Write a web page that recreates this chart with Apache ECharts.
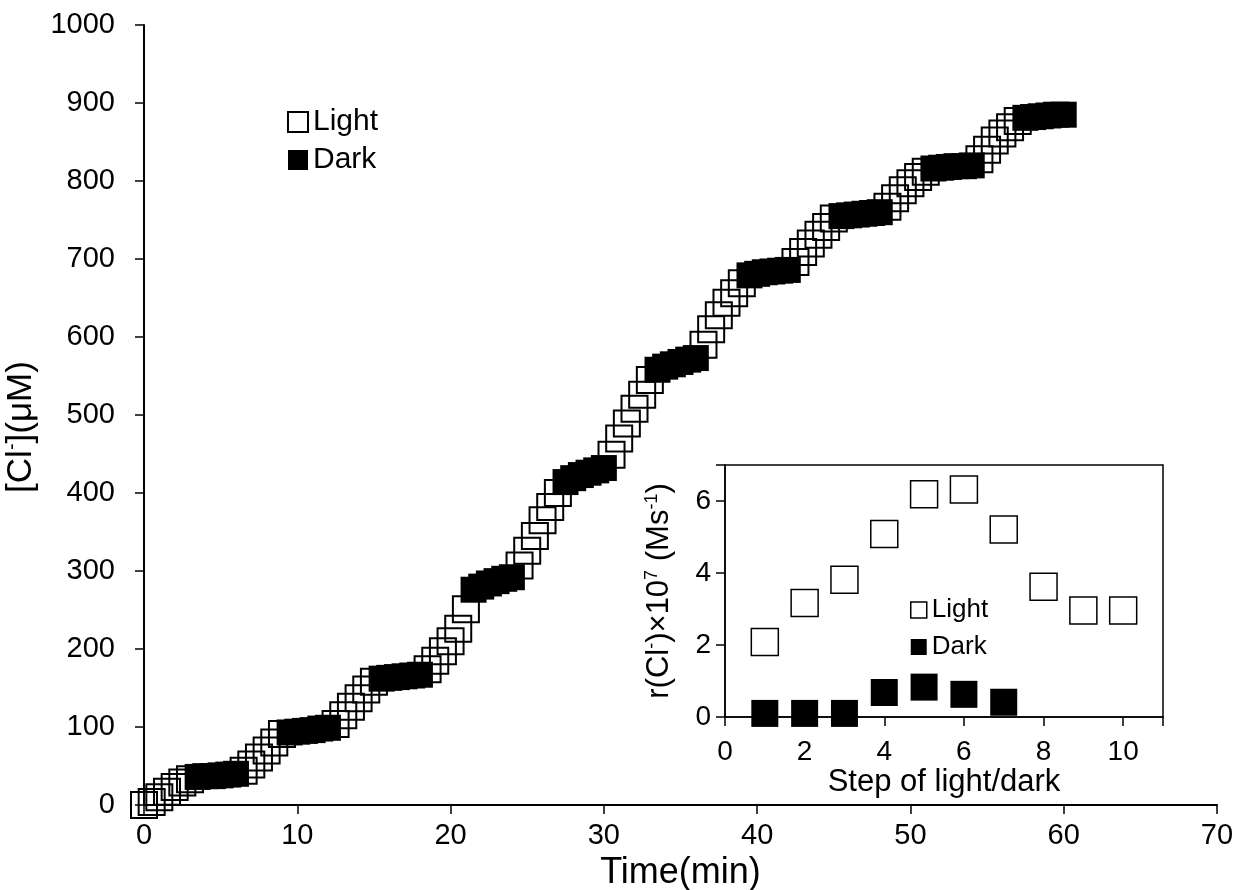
<!DOCTYPE html>
<html><head><meta charset="utf-8">
<script src="https://cdn.jsdelivr.net/npm/echarts@6/dist/echarts.min.js"></script>
<style>html,body{margin:0;padding:0;background:#fff}#c{width:1241px;height:890px}</style>
</head><body><div id="c"></div>
<script>
// Main panel: [Cl-] vs time, light and dark periods
const lightTime = [0,0.5,1,1.5,2,2.5,3, 6.5,7,7.5,8,8.5,9, 12.5,13,13.5,14,14.5,15, 18.5,19,19.5,20,20.5,21, 24.5,25,25.5,26,26.5,27, 30.5,31,31.5,32,32.5,33, 36.5,37,37.5,38,38.5,39, 42.5,43,43.5,44,44.5,45, 48.5,49,49.5,50,50.5,51, 54.5,55,55.5,56,56.5,57];
const lightCl = [0,4,10,17,23,29,33, 44,52,61,70,80,91, 104,115,126,137,148,158, 174,185,197,210,226,251, 307,326,345,365,382,400, 449,470,489,508,526,545, 590,610,628,644,656,669, 696,709,720,731,741,752, 767,778,788,797,805,812, 828,840,852,861,869,877];
const darkTime = [3.5,4,4.5,5,5.5,6, 9.5,10,10.5,11,11.5,12, 15.5,16,16.5,17,17.5,18, 21.5,22,22.5,23,23.5,24, 27.5,28,28.5,29,29.5,30, 33.5,34,34.5,35,35.5,36, 39.5,40,40.5,41,41.5,42, 45.5,46,46.5,47,47.5,48, 51.5,52,52.5,53,53.5,54, 57.5,58,58.5,59,59.5,60];
const darkCl = [36,37,37,38,39,40, 93,94,95,96,98,99, 162,163,164,165,166,167, 276,280,284,287,290,292, 414,419,423,426,429,432, 558,562,565,568,571,573, 679,681,683,684,685,686, 755,756,757,758,759,760, 816,817,818,819,819,820, 881,882,883,884,885,885];

// Inset: rate per step
const stepLight = [1,2,3,4,5,6,7,8,9,10];
const rateLight = [2.08,3.17,3.81,5.08,6.19,6.32,5.21,3.62,2.96,2.96];
const stepDark = [1,2,3,4,5,6,7];
const rateDark = [0.10,0.10,0.10,0.68,0.83,0.63,0.41];

const mainXTicks = [0,10,20,30,40,50,60,70];
const insetXTicks = [0,2,4,6,8,10];
const insetYTicks = [0,2,4,6];

const FONT = '"Liberation Sans", Arial, sans-serif';
const zip = (xs, ys) => xs.map((x, i) => [x, ys[i]]);
const plain = (v) => String(v);
const chart = echarts.init(document.getElementById('c'), null, {renderer: 'canvas'});

const axisCommon = (w) => ({
  axisLine: {show: true, onZero: false, lineStyle: {color: '#000', width: w}},
  axisTick: {show: true, inside: false, length: 9, lineStyle: {color: '#000', width: 1.5}},
  splitLine: {show: false}
});

const option = {
  backgroundColor: '#fff',
  animation: false,
  textStyle: {fontFamily: FONT, color: '#000'},
  grid: [
    {left: 144, top: 25, right: 24, bottom: 85, outerBoundsMode: 'none', containLabel: false},
    {left: 725, top: 465, width: 438, height: 252, show: true, backgroundColor: '#fff',
     borderColor: '#000', borderWidth: 1.5, outerBoundsMode: 'none', containLabel: false}
  ],
  xAxis: [
    Object.assign({gridIndex: 0, type: 'value', min: 0, max: 70, interval: 10,
      axisLabel: {fontSize: 29, color: '#000', fontFamily: FONT, margin: 16, customValues: mainXTicks, formatter: plain},
      name: 'Time(min)', nameLocation: 'middle', nameGap: 49,
      nameTextStyle: {fontSize: 36, color: '#000', fontFamily: FONT}}, axisCommon(2)),
    Object.assign({gridIndex: 1, type: 'value', min: 0, max: 11, interval: 2,
      axisLabel: {fontSize: 28, color: '#000', fontFamily: FONT, margin: 21, customValues: insetXTicks, formatter: plain},
      name: 'Step of light/dark', nameLocation: 'middle', nameGap: 45,
      nameTextStyle: {fontSize: 31, color: '#000', fontFamily: FONT}}, axisCommon(1.5))
  ],
  yAxis: [
    Object.assign({gridIndex: 0, type: 'value', min: 0, max: 1000, interval: 100,
      axisLabel: {fontSize: 29, color: '#000', fontFamily: FONT, margin: 29, formatter: plain},
      name: '[Cl{sup|-}](μM)', nameLocation: 'middle', nameGap: 92, nameRotate: 90,
      nameTextStyle: {fontSize: 35, color: '#000', fontFamily: FONT, lineHeight: 37, padding: [0, 24, 0, 0],
        rich: {sup: {fontSize: 20, lineHeight: 20, verticalAlign: 'top', color: '#000', fontFamily: FONT}}}}, axisCommon(2)),
    Object.assign({gridIndex: 1, type: 'value', min: 0, max: 7, interval: 2,
      axisLabel: {fontSize: 28, color: '#000', fontFamily: FONT, margin: 14, customValues: insetYTicks, formatter: plain},
      name: 'r(Cl{sup|-})×10{sup|7} (Ms{sup|-1})', nameLocation: 'middle', nameGap: 49, nameRotate: 90,
      nameTextStyle: {fontSize: 31, color: '#000', fontFamily: FONT, lineHeight: 33,
        rich: {sup: {fontSize: 18, lineHeight: 18, verticalAlign: 'top', color: '#000', fontFamily: FONT}}}}, axisCommon(1.5))
  ],
  legend: [
    {left: 287, top: 107, orient: 'vertical', padding: 0, itemWidth: 20, itemHeight: 20, itemGap: 8,
     selectedMode: false, textStyle: {fontSize: 30, color: '#000', fontFamily: FONT, lineHeight: 30},
     data: [
       {name: 'Light', icon: 'rect', itemStyle: {color: '#fff', borderColor: '#000', borderWidth: 2, opacity: 1}},
       {name: 'Dark', icon: 'rect', itemStyle: {color: '#000', borderWidth: 0, opacity: 1}}
     ]},
    {left: 910, top: 597, orient: 'vertical', padding: 0, itemWidth: 16, itemHeight: 16, itemGap: 11,
     selectedMode: false, textStyle: {fontSize: 26, color: '#000', fontFamily: FONT, lineHeight: 26},
     data: [
       {name: 'Light', icon: 'rect', itemStyle: {color: '#fff', borderColor: '#000', borderWidth: 1.5, opacity: 1}},
       {name: 'Dark', icon: 'rect', itemStyle: {color: '#000', borderWidth: 0, opacity: 1}}
     ]}
  ],
  series: [
    {name: 'Light', type: 'scatter', xAxisIndex: 0, yAxisIndex: 0, data: zip(lightTime, lightCl),
     symbol: 'rect', symbolSize: 26, clip: false, silent: true,
     itemStyle: {color: 'rgba(0,0,0,0)', borderColor: '#000', borderWidth: 2, opacity: 1}},
    {name: 'Dark', type: 'scatter', xAxisIndex: 0, yAxisIndex: 0, data: zip(darkTime, darkCl),
     symbol: 'rect', symbolSize: 26, clip: false, silent: true,
     itemStyle: {color: '#000', opacity: 1}},
    {name: 'Light', type: 'scatter', xAxisIndex: 1, yAxisIndex: 1, data: zip(stepLight, rateLight),
     symbol: 'rect', symbolSize: 27, clip: false, silent: true,
     itemStyle: {color: '#fff', borderColor: '#000', borderWidth: 1.5, opacity: 1}},
    {name: 'Dark', type: 'scatter', xAxisIndex: 1, yAxisIndex: 1, data: zip(stepDark, rateDark),
     symbol: 'rect', symbolSize: 27, clip: false, silent: true,
     itemStyle: {color: '#000', opacity: 1}}
  ]
};
chart.setOption(option);
</script>
</body></html>
